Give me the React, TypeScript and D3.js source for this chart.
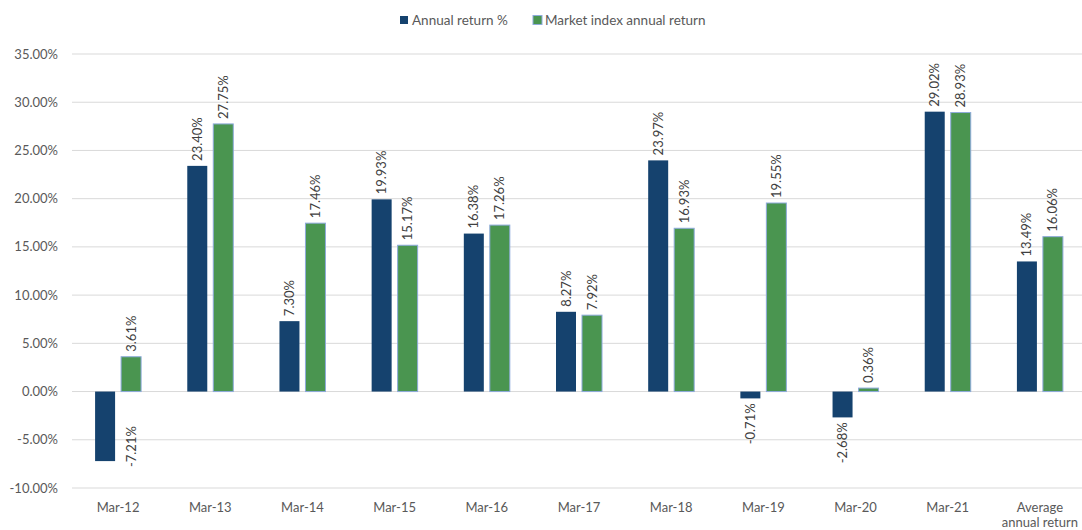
import React from "react";
import * as d3 from "d3";

const categories = ["Mar-12", "Mar-13", "Mar-14", "Mar-15", "Mar-16", "Mar-17", "Mar-18", "Mar-19", "Mar-20", "Mar-21", "Average\nannual return"];
const annualReturn = [-7.21, 23.4, 7.3, 19.93, 16.38, 8.27, 23.97, -0.71, -2.68, 29.02, 13.49];
const marketReturn = [3.61, 27.75, 17.46, 15.17, 17.26, 7.92, 16.93, 19.55, 0.36, 28.93, 16.06];
const yTicks = [-10, -5, 0, 5, 10, 15, 20, 25, 30, 35];
const seriesNames = ["Annual return %", "Market index annual return"];

const W = 1082, H = 530;
const FONT = "Lato, 'Open Sans', sans-serif";
const DARK = "#15426e";
const GREEN = "#4a9550";
const GREEN_STROKE = "#8eaadb";
const FS = 13;

export default function App() {
  const x = d3.scaleBand<string>().domain(categories).range([72, 1086]);
  const y = d3.scaleLinear().domain([-10, 35]).range([488, 54]);
  const bw = 20, gap = 6;
  const fmt = (v: number) => v.toFixed(2) + "%";
  const labelLen = 44;

  const series = [
    { vals: annualReturn, color: DARK, stroke: "none", off: -(gap / 2 + bw) },
    { vals: marketReturn, color: GREEN, stroke: GREEN_STROKE, off: gap / 2 },
  ];

  return (
    <svg width={W} height={H} style={{ position: "absolute", left: 0, top: 0, background: "#fff" }} fontFamily={FONT}>
      {yTicks.map((t) => (
        <g key={t}>
          <line x1={72} x2={1086} y1={y(t)} y2={y(t)} stroke="#d9d9d9" strokeWidth={1} />
          <text x={58} y={y(t)} dy="0.35em" textAnchor="end" fontSize={FS} fill="#595959">
            {t.toFixed(2) + "%"}
          </text>
        </g>
      ))}
      {series.map((s, si) =>
        s.vals.map((v, i) => {
          const cx = (x(categories[i]) as number) + x.bandwidth() / 2;
          const bx = cx + s.off;
          const y0 = y(0), yv = y(v);
          const top = Math.min(y0, yv), h = Math.abs(y0 - yv);
          let lx = bx + bw / 2;
          let ly = v >= 0 ? yv - 5 : yv + 5;
          let anchor = v >= 0 ? "start" : "end";
          if (v < 0 && ly + labelLen > y(-10)) {
            // label would fall outside the plot: shift beside the bar
            lx = bx + bw + gap + bw / 2;
            ly = yv + 6;
            anchor = "start";
          }
          return (
            <g key={si + "-" + i}>
              <rect x={bx} y={top} width={bw} height={Math.max(h, 1)} fill={s.color}
                stroke={s.stroke} strokeWidth={s.stroke === "none" ? 0 : 1} />
              <text transform={`translate(${lx},${ly}) rotate(-90)`} dy="0.35em"
                textAnchor={anchor} fontSize={FS} fill="#404040">
                {fmt(v)}
              </text>
            </g>
          );
        })
      )}
      {categories.map((c) => {
        const cx = (x(c) as number) + x.bandwidth() / 2;
        const lines = c.split("\n");
        return (
          <text key={c} x={cx} y={512} textAnchor="middle" fontSize={FS} fill="#595959">
            {lines.map((l, k) => (
              <tspan key={k} x={cx} dy={k === 0 ? 0 : 15}>{l}</tspan>
            ))}
          </text>
        );
      })}
      <g>
        <rect x={400} y={16} width={8} height={8} fill={DARK} />
        <text x={412} y={20} dy="0.35em" fontSize={13.5} fill="#595959">{seriesNames[0]}</text>
        <rect x={533} y={15.5} width={9} height={9} fill={GREEN} stroke={GREEN_STROKE} strokeWidth={1} />
        <text x={545} y={20} dy="0.35em" fontSize={13.5} fill="#595959">{seriesNames[1]}</text>
      </g>
    </svg>
  );
}
